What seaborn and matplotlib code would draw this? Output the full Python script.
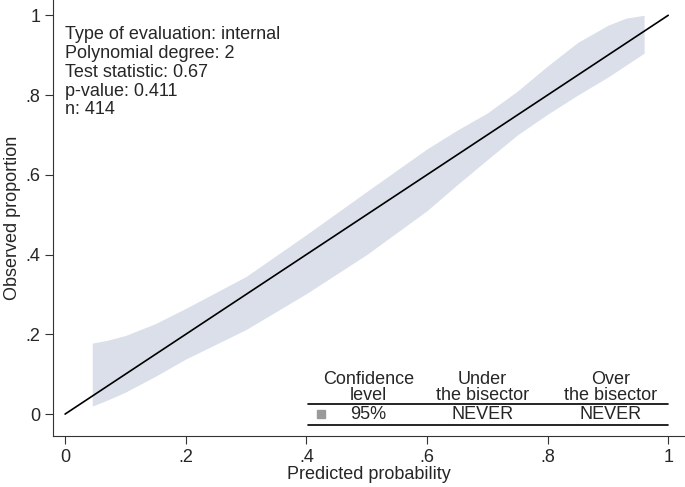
import matplotlib
matplotlib.use("Agg")
import matplotlib.pyplot as plt
import seaborn as sns
import pandas as pd

# Calibration belt (95%)
belt_x = [0.045, 0.07, 0.10, 0.15, 0.20, 0.30, 0.40, 0.50, 0.60, 0.65,
          0.70, 0.75, 0.80, 0.85, 0.90, 0.93, 0.96]
belt_upper = [0.178, 0.185, 0.197, 0.227, 0.265, 0.345, 0.45, 0.558, 0.665, 0.712,
              0.755, 0.81, 0.873, 0.932, 0.975, 0.993, 1.0]
belt_lower = [0.02, 0.035, 0.055, 0.095, 0.138, 0.212, 0.302, 0.40, 0.51, 0.575,
              0.638, 0.70, 0.752, 0.80, 0.845, 0.875, 0.905]

# Bisector
bisector_x = [0, 1]
bisector_y = [0, 1]

info_lines = ["Type of evaluation: internal", "Polynomial degree: 2",
              "Test statistic: 0.67", "p-value: 0.411", "n: 414"]
table_headers = ["Confidence\nlevel", "Under\nthe bisector", "Over\nthe bisector"]
table_row = ["95%", "NEVER", "NEVER"]
ticks = [0, 0.2, 0.4, 0.6, 0.8, 1]
tick_labels = ["0", ".2", ".4", ".6", ".8", "1"]

sns.set_style("ticks")
plt.rcParams['font.family'] = ['Liberation Sans', 'DejaVu Sans']

fig = plt.figure(figsize=(6.85, 4.87), dpi=100)
ax = fig.add_axes([0.0774, 0.1047, 0.921, 0.895])

belt = pd.DataFrame({"x": belt_x, "lo": belt_lower, "hi": belt_upper})
ax.fill_between(belt["x"], belt["lo"], belt["hi"], color="#dadfea", lw=0)

line = pd.DataFrame({"x": bisector_x, "y": bisector_y})
sns.lineplot(data=line, x="x", y="y", color="black", lw=1.2, ax=ax)

ax.set_xlim(-0.02, 1.026)
ax.set_ylim(-0.055, 1.038)
ax.set_xticks(ticks, tick_labels)
ax.set_yticks(ticks, tick_labels)
ax.tick_params(labelsize=13, length=6, width=0.8, color="#333333", pad=3)
ax.set_xlabel("Predicted probability", fontsize=13, labelpad=0)
ax.set_ylabel("Observed proportion", fontsize=13, labelpad=3)
sns.despine(ax=ax)
for s in ["left", "bottom"]:
    ax.spines[s].set_linewidth(0.8)
    ax.spines[s].set_color("#333333")

# Info text block
ax.text(0.0, 0.972, "\n".join(info_lines), fontsize=13, va="top", ha="left",
        linespacing=1.13)

# Result table
col_x = [0.503, 0.692, 0.904]
for cx, h, r in zip(col_x, table_headers, table_row):
    ax.text(cx, 0.066, h, fontsize=13, ha="center", va="center", linespacing=0.9)
    ax.text(cx, -0.001, r, fontsize=13, ha="center", va="center")
ax.plot([0.402, 1.0], [0.025, 0.025], color="black", lw=1.2)
ax.plot([0.402, 1.0], [-0.028, -0.028], color="black", lw=1.2)
ax.plot([0.425], [-0.001], marker="s", ms=6, color="#9a9a9a", ls="none")

fig.savefig("out.png", dpi=100)
